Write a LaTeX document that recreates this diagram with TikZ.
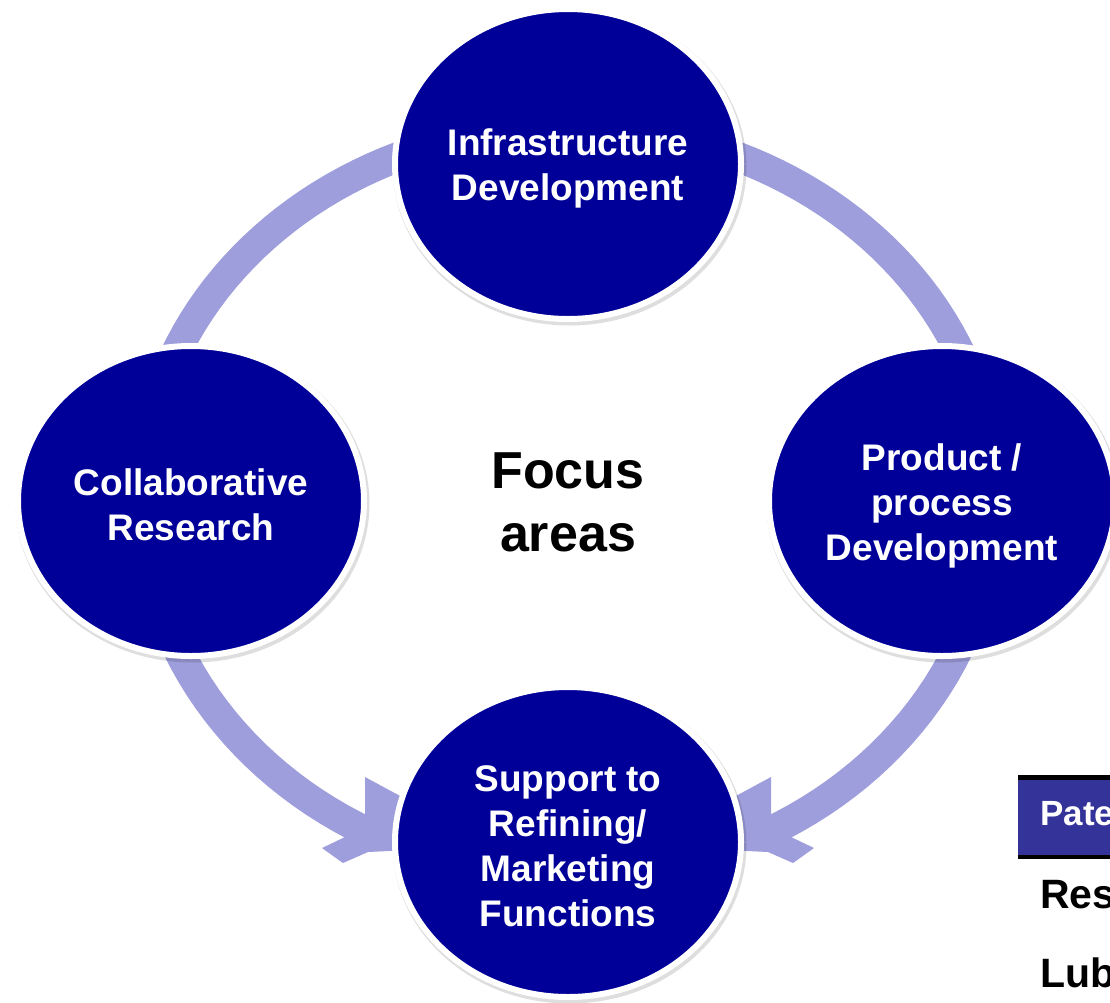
\documentclass[tikz,border=0pt]{standalone}
\usepackage{fontspec}
\setmainfont{Liberation Sans}
\usetikzlibrary{shapes.geometric}
\definecolor{ringc}{RGB}{158,158,220}
\definecolor{circblue}{RGB}{0,0,153}
\definecolor{hdrblue}{RGB}{51,51,153}
\tikzset{
  focusnode/.style={ellipse, minimum width=346pt, minimum height=310pt, inner sep=0pt,
    fill=circblue, draw=white, line width=6pt},
  circtext/.style={text=white, align=center, inner sep=0pt,
    font=\bfseries\fontsize{37}{45}\selectfont},
  ringline/.style={draw=ringc, line width=30pt, line cap=butt, line join=round},
  arrowhd/.style={fill=ringc},
  shadowc/.style={fill=black, opacity=0.13},
  tabtext/.style={anchor=base west, inner sep=0pt, font=\bfseries\fontsize{41}{45}\selectfont},
}
\begin{document}
\begin{tikzpicture}[x=1pt,y=-1pt]
\useasboundingbox (0,0) rectangle (1110,1002);
\clip (0,0) rectangle (1110,1002);
\fill[white] (0,0) rectangle (1110,1002);
% ring of arcs
\draw[ringline] plot[domain=118:180,samples=30] ({568+425.7*cos(\x)},{497.5+379.4*sin(\x)})
  -- plot[domain=180:360,samples=90] ({568+425.7*cos(\x)},{497.5+371.5*sin(\x)})
  -- plot[domain=0:62,samples=30] ({568+425.7*cos(\x)},{497.5+379.4*sin(\x)});
% arrowheads
\fill[arrowhd] (365,777) -- (402,797) -- (410,850) -- (368,852) -- (343,863) -- (322,848) -- (345,837) -- (365,815) -- cycle;
\begin{scope}[xshift=1136pt,xscale=-1]
\fill[arrowhd] (365,777) -- (402,797) -- (410,850) -- (368,852) -- (343,863) -- (322,848) -- (345,837) -- (365,815) -- cycle;
\end{scope}
% soft shadows
\fill[shadowc] (569.5,166.5) ellipse [x radius=177, y radius=159];
\fill[shadowc] (192.5,503.5) ellipse [x radius=177, y radius=159];
\fill[shadowc] (943.5,503.5) ellipse [x radius=177, y radius=159];
\fill[shadowc] (569.5,844.5) ellipse [x radius=177, y radius=159];
% focus circles
\node[focusnode] (infra) at (568,164) {};
\node[focusnode] (collab) at (191,501) {};
\node[focusnode] (prod) at (942,501) {};
\node[focusnode] (supp) at (568,842) {};
\node[circtext] (infra-t) at (568,168) {Infrastructure\\Development};
\node[circtext] (collab-t) at (191,505) {Collaborative\\Research};
\node[circtext] (prod-t) at (942,506) {Product /\\process\\Development};
\node[circtext] (supp-t) at (568,846) {Support to\\Refining/\\Marketing\\Functions};
\node[align=center, inner sep=0pt, font=\bfseries\fontsize{52}{63}\selectfont] (centre) at (568,502) {Focus\\areas};
% table fragment
\fill[black] (1018,775) rectangle (1115,859);
\fill[hdrblue] (1018,780) rectangle (1115,855);
\node[tabtext, text=white, font=\bfseries\fontsize{35}{40}\selectfont] (pat) at (1040,825) {Pate};
\node[tabtext] (res) at (1040,908) {Res};
\node[tabtext] (lub) at (1040,987) {Lub};
\end{tikzpicture}
\end{document}
